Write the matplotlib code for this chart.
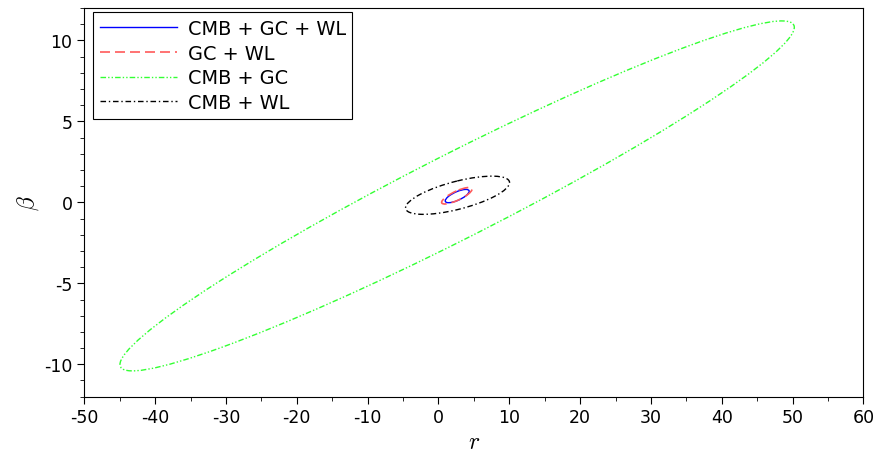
import matplotlib
matplotlib.use("Agg")
import matplotlib.pyplot as plt
import numpy as np
from matplotlib.patches import Ellipse
from matplotlib.lines import Line2D

# Fisher-forecast style contours:
# centre, half-extent along r, half-extent along beta, correlation
labels = ["CMB + GC + WL", "GC + WL", "CMB + GC", "CMB + WL"]
center_r = [2.65, 2.6, 2.64, 2.7]
center_beta = [0.39, 0.41, 0.40, 0.44]
half_r = [1.69, 2.15, 47.6, 7.34]
half_beta = [0.41, 0.51, 10.81, 1.18]
rho = [0.72, 0.80, 0.963, 0.66]

colors = ["#0000ff", "#ff5a5a", "#33ff33", "#000000"]
styles = ["-", (0, (6, 3)), (0, (4, 1.5, 1, 1.5, 1, 1.5)), (0, (4, 2, 1, 2))]
widths = [1.0, 1.2, 1.0, 1.0]

plt.rcParams['mathtext.fontset'] = 'cm'
plt.rcParams['axes.unicode_minus'] = False

fig = plt.figure(figsize=(8.75, 4.56), dpi=100)
ax = fig.add_axes([0.0963, 0.128, 0.8905, 0.852])

handles = []
for i in range(len(labels)):
    cov = np.array([[half_r[i]**2, rho[i] * half_r[i] * half_beta[i]],
                    [rho[i] * half_r[i] * half_beta[i], half_beta[i]**2]])
    vals, vecs = np.linalg.eigh(cov)
    ang = np.degrees(np.arctan2(vecs[1, 1], vecs[0, 1]))
    e = Ellipse((center_r[i], center_beta[i]),
                width=2 * np.sqrt(vals[1]), height=2 * np.sqrt(vals[0]),
                angle=ang, fill=False, edgecolor=colors[i],
                linestyle=styles[i], linewidth=widths[i])
    ax.add_patch(e)
    handles.append(Line2D([], [], color=colors[i], linestyle=styles[i],
                          linewidth=widths[i], label=labels[i]))

ax.set_xlim(-50, 60)
ax.set_ylim(-12, 12)
ax.set_xticks(np.arange(-50, 61, 10))
ax.set_yticks([-10, -5, 0, 5, 10])
ax.set_xticks(np.arange(-50, 61, 5), minor=True)
ax.set_yticks(np.arange(-12, 13, 1), minor=True)
ax.tick_params(which='major', length=5, labelsize=12.5)
ax.tick_params(which='minor', length=3)

ax.set_xlabel(r"$r$", fontsize=17, labelpad=2)
ax.set_ylabel(r"$\beta$", fontsize=17, labelpad=2)

leg = ax.legend(handles=handles, loc='upper left',
                bbox_to_anchor=(0.0112, 0.9897), borderaxespad=0,
                fontsize=13.9, fancybox=False, edgecolor='black',
                framealpha=1, handlelength=4.0, handletextpad=0.55,
                labelspacing=0.3, borderpad=0.35)
leg.get_frame().set_linewidth(0.8)

fig.savefig("out.png", dpi=100)
